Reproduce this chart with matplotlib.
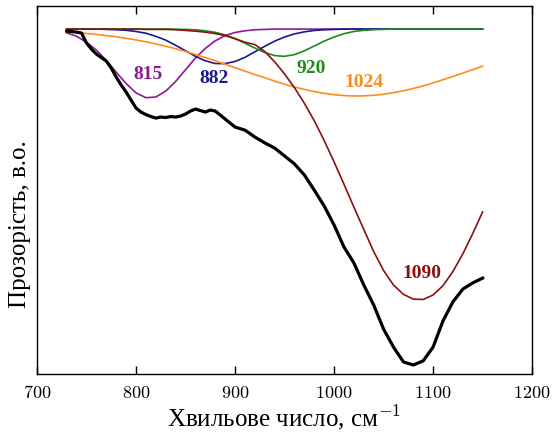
import numpy as np
import matplotlib.pyplot as plt

plt.rcParams['font.family'] = ['Liberation Serif', 'DejaVu Serif']
plt.rcParams['mathtext.fontset'] = 'cm'

# common wavenumber grid for the fitted components, cm^-1
wn = [730, 740, 750, 760, 770, 780, 790, 800, 810, 820, 830, 840, 850, 860,
      870, 880, 890, 900, 910, 920, 930, 940, 950, 960, 970, 980, 990, 1000,
      1010, 1020, 1030, 1040, 1050, 1060, 1070, 1080, 1090, 1100, 1110, 1120,
      1130, 1140, 1150]

band_815 = [0.989, 0.979, 0.962, 0.939, 0.909, 0.875, 0.842, 0.815, 0.801, 0.803,
            0.820, 0.848, 0.882, 0.916, 0.944, 0.966, 0.981, 0.990, 0.995, 0.998,
            0.999, 1.0, 1.0, 1.0, 1.0, 1.0, 1.0, 1.0, 1.0, 1.0, 1.0, 1.0, 1.0,
            1.0, 1.0, 1.0, 1.0, 1.0, 1.0, 1.0, 1.0, 1.0, 1.0]
band_882 = [1.0, 1.0, 1.0, 1.0, 0.999, 0.998, 0.9965, 0.993, 0.988, 0.979, 0.968,
            0.953, 0.937, 0.921, 0.908, 0.900, 0.900, 0.906, 0.918, 0.934, 0.950,
            0.965, 0.977, 0.986, 0.992, 0.996, 0.998, 0.999, 1.0, 1.0, 1.0, 1.0,
            1.0, 1.0, 1.0, 1.0, 1.0, 1.0, 1.0, 1.0, 1.0, 1.0, 1.0]
band_920 = [1.0, 1.0, 1.0, 1.0, 1.0, 1.0, 1.0, 1.0, 1.0, 1.0, 1.0, 0.9996, 0.999,
            0.998, 0.995, 0.9905, 0.983, 0.9726, 0.959, 0.945, 0.932, 0.923, 0.921,
            0.926, 0.937, 0.951, 0.965, 0.977, 0.9865, 0.993, 0.9964, 0.998, 0.9993,
            1.0, 1.0, 1.0, 1.0, 1.0, 1.0, 1.0, 1.0, 1.0, 1.0]
band_1024 = [0.9916, 0.9896, 0.9873, 0.9845, 0.981, 0.9776, 0.9733, 0.9685, 0.963,
             0.957, 0.9502, 0.943, 0.935, 0.9265, 0.9175, 0.908, 0.898, 0.888, 0.878,
             0.868, 0.859, 0.849, 0.840, 0.832, 0.825, 0.8187, 0.8136, 0.8097, 0.8072,
             0.806, 0.8064, 0.808, 0.811, 0.8155, 0.821, 0.8277, 0.8353, 0.8438, 0.853,
             0.8625, 0.8723, 0.8823, 0.8923]
band_1090 = [1.0, 1.0, 1.0, 1.0, 1.0, 1.0, 1.0, 1.0, 0.999, 0.999, 0.999, 0.998,
             0.996, 0.994, 0.991, 0.987, 0.981, 0.972, 0.962, 0.955, 0.935, 0.905,
             0.870, 0.830, 0.785, 0.734, 0.677, 0.615, 0.550, 0.484, 0.419, 0.355,
             0.300, 0.258, 0.231, 0.217, 0.216, 0.229, 0.256, 0.297, 0.348, 0.407,
             0.470]

# measured spectrum
spec_x = [730, 735, 740, 745, 750, 755, 760, 765, 770, 775, 780, 785, 790, 795,
          800, 805, 810, 815, 820, 825, 830, 835, 840, 845, 850, 855, 860, 865,
          870, 875, 880, 885, 890, 895, 900, 910, 920, 930, 940, 950, 960, 970,
          980, 990, 1000, 1010, 1020, 1030, 1040, 1050, 1060, 1070, 1080, 1090,
          1100, 1110, 1120, 1130, 1140, 1150]
spec_y = [0.9942, 0.9928, 0.9913, 0.9884, 0.9594, 0.9420, 0.9275, 0.9174, 0.9072,
          0.8870, 0.8609, 0.8377, 0.8174, 0.7942, 0.7710, 0.7594, 0.7522, 0.7464,
          0.7420, 0.7449, 0.7435, 0.7464, 0.7449, 0.7478, 0.7536, 0.7623, 0.7681,
          0.7638, 0.7594, 0.7652, 0.7623, 0.7507, 0.7391, 0.7275, 0.7159, 0.707,
          0.687, 0.670, 0.655, 0.632, 0.609, 0.577, 0.533, 0.487, 0.432, 0.368,
          0.322, 0.258, 0.200, 0.130, 0.078, 0.035, 0.026, 0.038, 0.078, 0.154,
          0.209, 0.246, 0.264, 0.278]

bands = [band_815, band_882, band_920, band_1024, band_1090]
band_names = ['815', '882', '920', '1024', '1090']
band_colors = ['#8b1a96', '#1a1a8c', '#1a8c1a', '#ff8c1a', '#8b1010']
label_pos = [(812, 0.87), (879, 0.861), (977, 0.89), (1030, 0.849), (1089, 0.293)]

fig = plt.figure(figsize=(5.52, 4.35), dpi=100)
ax = fig.add_axes([0.067, 0.138, 0.897, 0.846])

for vals, name, col, (lx, ly) in zip(bands, band_names, band_colors, label_pos):
    ax.plot(wn, vals, color=col, lw=1.2)
    ax.text(lx, ly, name, color=col, fontsize=14, fontweight='bold',
            ha='center', va='center')

ax.plot(spec_x, spec_y, color='black', lw=2.3)

ax.set_xlim(700, 1200)
ax.set_ylim(0, 1.067)
ax.set_xticks([700, 800, 900, 1000, 1100, 1200])
ax.set_xticklabels([r'$%d$' % v for v in [700, 800, 900, 1000, 1100, 1200]])
ax.set_yticks([])
ax.tick_params(axis='x', direction='in', top=True, length=6, width=1,
               labelsize=13, pad=7)
for s in ax.spines.values():
    s.set_linewidth(1.0)

ax.set_xlabel('Хвильове число, см$^{-1}$', fontsize=18, labelpad=1)
ax.set_ylabel('Прозорість, в.о.', fontsize=18)
ax.yaxis.set_label_coords(-0.012, 0.41)

fig.savefig('out.png', dpi=100)
